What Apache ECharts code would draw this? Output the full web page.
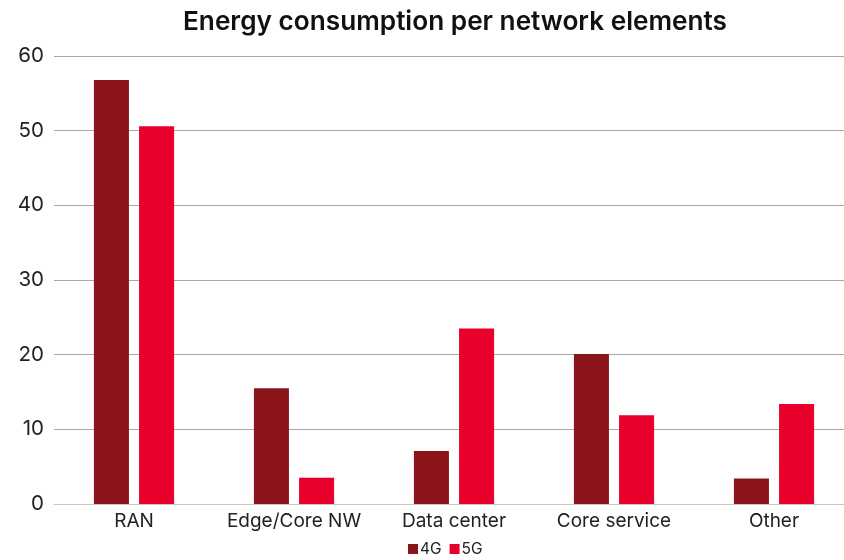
<!DOCTYPE html>
<html><head><meta charset="utf-8">
<script src="https://cdn.jsdelivr.net/npm/echarts@6/dist/echarts.min.js"></script>
<style>html,body{margin:0;padding:0;background:#fff;overflow:hidden}#c{width:880px;height:560px}</style>
</head><body><div id="c"></div>
<script>
const categories = ['RAN', 'Edge/Core NW', 'Data center', 'Core service', 'Other'];
const values4G = [56.8, 15.5, 7.1, 20.1, 3.4];
const values5G = [50.6, 3.5, 23.5, 11.9, 13.4];
const seriesNames = ['4G', '5G'];
const yTicks = [0, 10, 20, 30, 40, 50, 60];

const chart = echarts.init(document.getElementById('c'), null, {renderer: 'canvas'});
chart.setOption({
  animation: false,
  textStyle: {fontFamily: 'Inter, Roboto, sans-serif'},
  title: {
    text: 'Energy consumption per network elements',
    left: 450, top: 4, textAlign: 'center',
    textStyle: {fontSize: 26.2, fontWeight: 600, color: '#111', fontFamily: 'Inter, sans-serif'}
  },
  legend: {
    data: seriesNames, bottom: -2, left: 403,
    itemWidth: 10, itemHeight: 10, itemGap: 8,
    icon: 'rect',
    textStyle: {fontSize: 15.5, color: '#222', padding: [0,0,0,-3]}
  },
  grid: {left: 54, right: 26, top: 56, bottom: 56},
  xAxis: {
    type: 'category', data: categories,
    axisTick: {show: false},
    axisLine: {lineStyle: {color: '#c8c8c8', width: 1}},
    axisLabel: {fontSize: 19, color: '#222', margin: 8, interval: 0}
  },
  yAxis: {
    type: 'value', min: 0, max: 60, interval: 10,
    axisLabel: {fontSize: 20.5, color: '#222', margin: 10,
      formatter: v => yTicks.includes(v) ? String(v) : ''},
    splitLine: {lineStyle: {color: '#a8a8a8', width: 1}},
    axisLine: {show: false}, axisTick: {show: false}
  },
  series: [
    {name: '4G', type: 'bar', data: values4G, barWidth: 35, barGap: '29%', itemStyle: {color: '#8A1419'}},
    {name: '5G', type: 'bar', data: values5G, barWidth: 35, itemStyle: {color: '#E8002B'}}
  ]
});
</script></body></html>
